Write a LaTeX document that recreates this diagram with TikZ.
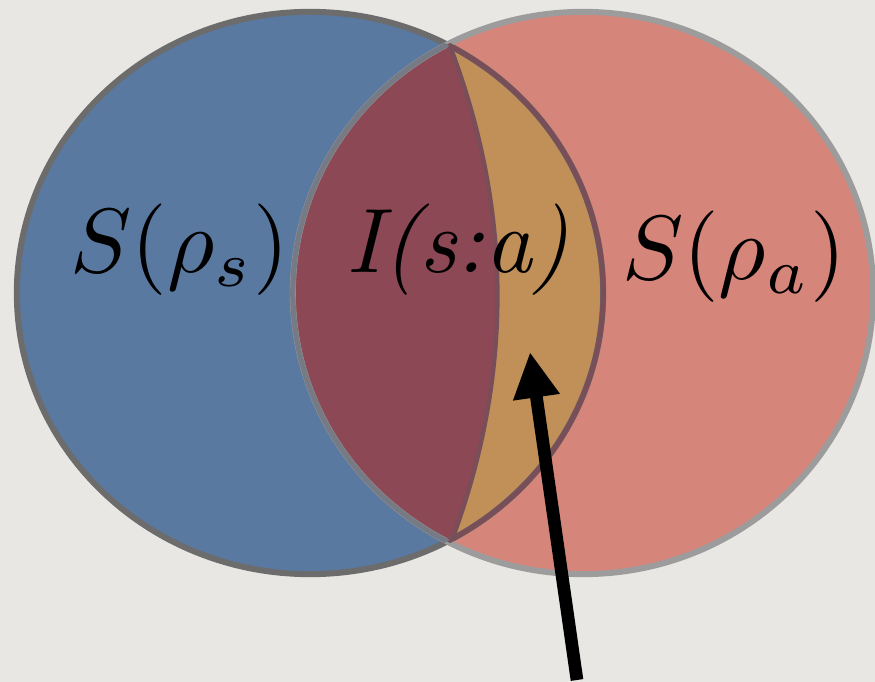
\documentclass[tikz,border=0pt]{standalone}
\usetikzlibrary{arrows.meta}
\definecolor{bgc}{RGB}{233,231,227}
\definecolor{bluec}{RGB}{90,121,161}
\definecolor{redc}{RGB}{214,133,122}
\definecolor{overc}{RGB}{140,72,84}
\definecolor{orangec}{RGB}{192,144,88}
\definecolor{blueline}{RGB}{108,108,108}
\definecolor{redline}{RGB}{156,156,156}
\definecolor{lensline}{RGB}{120,78,88}
\definecolor{innerred}{RGB}{118,122,132}
\tikzset{
  lbl/.style={anchor=base, inner sep=0pt, scale=2.6},
  pointer/.style={line width=3.6pt, -{Triangle[length=13pt,width=12.5pt]}},
  blueell/.style={x radius=2.93cm, y radius=2.81cm},
  redell/.style={x radius=2.90cm, y radius=2.81cm}
}
\begin{document}
\begin{tikzpicture}[x=0.01cm, y=-0.01cm]
\fill[bgc] (0,0) rectangle (875,682);
\useasboundingbox (0,0) rectangle (875,682);
\coordinate (cb) at (310,293);
\coordinate (cr) at (583,293);
\coordinate (top) at (450,46);
\coordinate (bot) at (452,540);
% fills
\fill[bluec] (cb) ellipse [blueell];
\fill[redc] (cr) ellipse [redell];
\begin{scope}
  \clip (cb) ellipse [blueell];
  \fill[overc] (cr) ellipse [redell];
  \fill[orangec] (top) .. controls (512.7,210.7) and (513.3,375.3) .. (bot) -- (700,540) -- (700,46) -- cycle;
\end{scope}
% outlines
\draw[blueline, line width=1.7pt] (cb) ellipse [blueell];
\draw[redline, line width=1.7pt] (cr) ellipse [redell];
\begin{scope}
  \clip (cr) ellipse [redell];
  \draw[lensline, line width=1.5pt] (cb) ellipse [blueell];
\end{scope}
\begin{scope}
  \clip (cb) ellipse [blueell];
  \draw[innerred, line width=1.5pt] (cr) ellipse [redell];
\end{scope}
\draw[lensline, line width=1.2pt] (top) .. controls (512.7,210.7) and (513.3,375.3) .. (bot);
% labels
\node[lbl] (ls) at (180,273) {$S(\rho_s)$};
\node[lbl] (li) at (458,273) {\itshape I(s:a)};
\node[lbl] (la) at (734,280) {$S(\rho_a)$};
% arrow
\coordinate (tail) at (577,680);
\coordinate (tip) at (530,352);
\draw[pointer] (tail) -- (tip);
\end{tikzpicture}
\end{document}
